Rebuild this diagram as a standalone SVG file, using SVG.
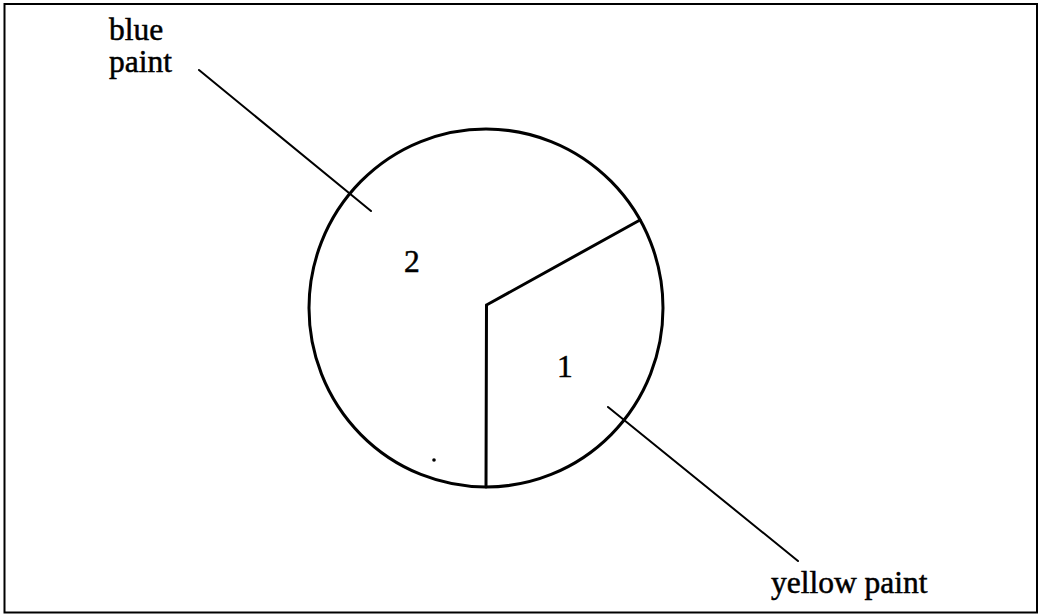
<svg xmlns="http://www.w3.org/2000/svg" width="1045" height="615" viewBox="0 0 1045 615">
<style>
.t{font-family:"Liberation Serif","Times New Roman",serif;font-size:31.5px;fill:#000;stroke:#000;stroke-width:0.5}
.ln{stroke:#000;fill:none;stroke-linecap:round}
</style>
<rect x="0" y="0" width="1045" height="615" fill="#fff"/>
<rect x="4.5" y="4" width="1032.5" height="608.5" fill="none" stroke="#000" stroke-width="2"/>
<g id="circle">
<ellipse cx="486" cy="308" rx="177" ry="179" class="ln" stroke-width="3"/>
</g>
<g id="sectors">
<path d="M486.5,305 L640,220 M486.5,305 L486,487" class="ln" stroke-width="3"/>
<circle cx="434" cy="460" r="1.8" fill="#000"/>
</g>
<g id="label-2"><text class="t" x="404" y="272">2</text></g>
<g id="label-1"><text class="t" x="557" y="377">1</text></g>
<g id="label-blue"><text class="t" x="109" y="40">blue</text><text class="t" x="109" y="72">paint</text></g>
<g id="label-yellow"><text class="t" x="771" y="593">yellow paint</text></g>
<g id="connectors">
<line x1="199" y1="70" x2="371" y2="211" class="ln" stroke-width="2"/>
<line x1="608" y1="407" x2="798" y2="561" class="ln" stroke-width="2"/>
</g>
</svg>
